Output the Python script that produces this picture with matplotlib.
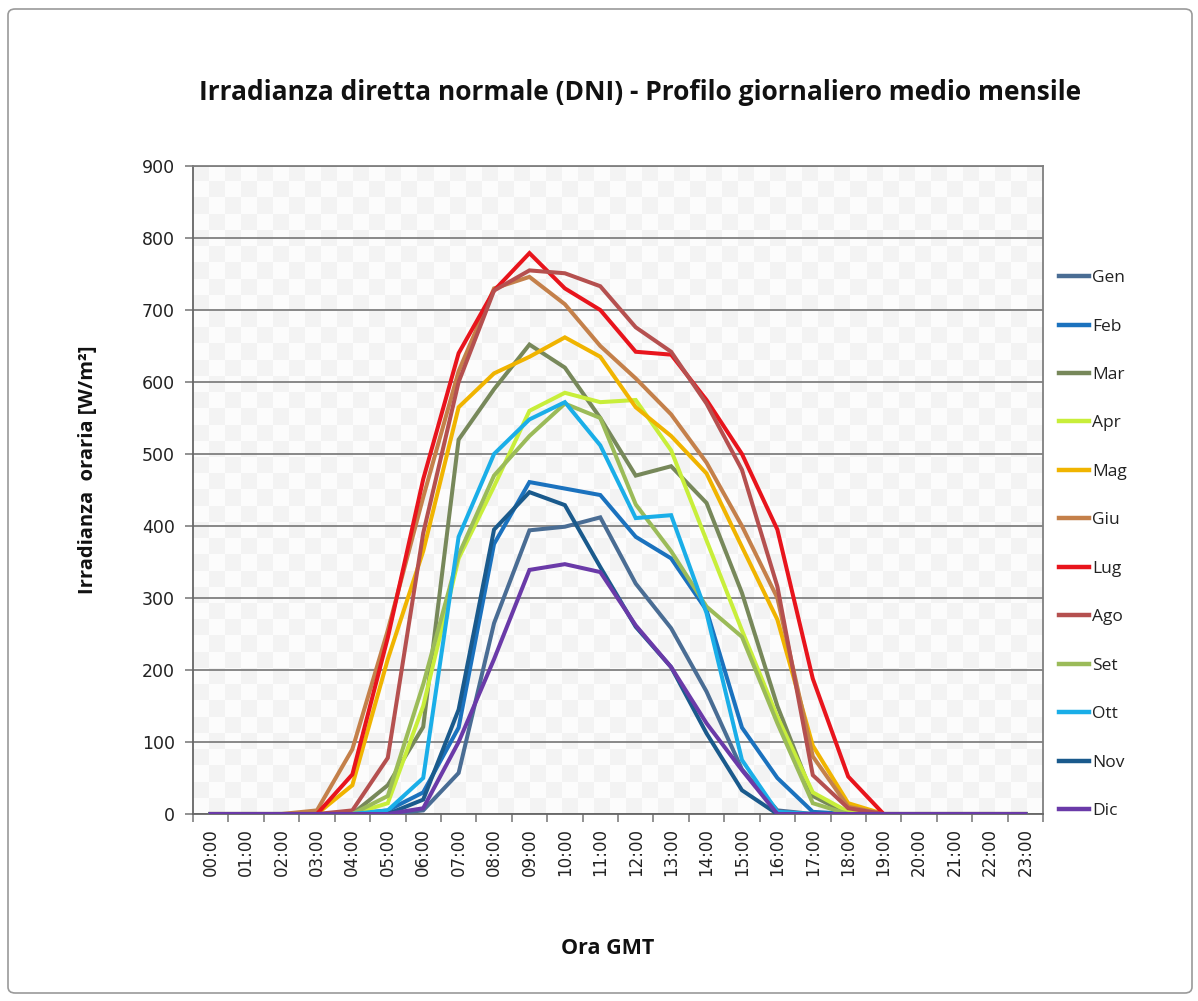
import numpy as np
import matplotlib
matplotlib.use("Agg")
import matplotlib.pyplot as plt
from matplotlib.patches import FancyBboxPatch
from matplotlib.colors import ListedColormap

hours = ["%02d:00" % h for h in range(24)]
months = ["Gen", "Feb", "Mar", "Apr", "Mag", "Giu", "Lug", "Ago", "Set", "Ott", "Nov", "Dic"]

gen = [0, 0, 0, 0, 0, 0, 5, 57, 265, 394, 399, 412, 320, 258, 170, 62, 5, 0, 0, 0, 0, 0, 0, 0]
feb = [0, 0, 0, 0, 0, 5, 30, 120, 375, 461, 452, 443, 385, 355, 283, 120, 50, 3, 0, 0, 0, 0, 0, 0]
mar = [0, 0, 0, 0, 0, 40, 121, 520, 590, 652, 620, 550, 470, 483, 432, 307, 150, 25, 0, 0, 0, 0, 0, 0]
apr = [0, 0, 0, 0, 0, 15, 150, 355, 455, 560, 585, 572, 575, 505, 380, 255, 135, 30, 3, 0, 0, 0, 0, 0]
mag = [0, 0, 0, 0, 40, 215, 365, 565, 612, 635, 662, 635, 565, 525, 473, 371, 270, 95, 15, 0, 0, 0, 0, 0]
giu = [0, 0, 0, 5, 90, 255, 440, 615, 730, 746, 708, 650, 605, 555, 488, 400, 300, 80, 10, 0, 0, 0, 0, 0]
lug = [0, 0, 0, 0, 55, 245, 465, 640, 727, 779, 730, 700, 642, 638, 575, 500, 395, 188, 52, 0, 0, 0, 0, 0]
ago = [0, 0, 0, 0, 5, 78, 390, 600, 727, 755, 751, 733, 676, 642, 570, 478, 316, 54, 8, 0, 0, 0, 0, 0]
set_ = [0, 0, 0, 0, 0, 25, 180, 360, 470, 525, 570, 550, 430, 365, 288, 246, 126, 15, 0, 0, 0, 0, 0, 0]
ott = [0, 0, 0, 0, 0, 5, 50, 385, 500, 548, 572, 512, 411, 415, 279, 75, 3, 0, 0, 0, 0, 0, 0, 0]
nov = [0, 0, 0, 0, 0, 0, 20, 145, 395, 447, 429, 343, 260, 204, 112, 33, 0, 0, 0, 0, 0, 0, 0, 0]
dic = [0, 0, 0, 0, 0, 0, 8, 100, 215, 339, 347, 336, 262, 204, 126, 61, 0, 0, 0, 0, 0, 0, 0, 0]

series = [gen, feb, mar, apr, mag, giu, lug, ago, set_, ott, nov, dic]
colors = ["#4A6D94", "#1B72BE", "#77885A", "#C8EE3A", "#F0B400", "#C4804A",
          "#E8141C", "#B5504F", "#9BBB59", "#1AAEE8", "#1A5A8C", "#6A3AA8"]

fig = plt.figure(figsize=(11.98, 10.01), dpi=100)
fig.patch.set_facecolor("white")

# outer border
fig.add_artist(FancyBboxPatch((8 / 1198, 8 / 1001), 1184 / 1198, 984 / 1001,
                              boxstyle="round,pad=0,rounding_size=0.006",
                              transform=fig.transFigure, fill=False,
                              edgecolor="#9a9a9a", linewidth=1.2))

L, R, B, T = 193 / 1198, 1043 / 1198, 1 - 814 / 1001, 1 - 166 / 1001
ax = fig.add_axes([L, B, R - L, T - B])

x = np.arange(24)
ax.set_xlim(-0.5, 23.5)
ax.set_ylim(0, 900)

# subtle checker background
nx, ny = 53, 40
chk = (np.indices((ny, nx)).sum(axis=0) % 2).astype(float)
ax.imshow(chk, extent=(-0.5, 23.5, 0, 900), aspect="auto",
          cmap=ListedColormap(["#f3f3f3", "#fcfcfc"]), vmin=0, vmax=1,
          zorder=0, interpolation="nearest")

ax.set_yticks(np.arange(0, 901, 100))
ax.yaxis.grid(True, color="#7f7f7f", linewidth=1.3, zorder=1)
ax.set_axisbelow(True)

for s, c, m in zip(series, colors, months):
    ax.plot(x, s, color=c, linewidth=2.9, label=m, zorder=3, solid_joinstyle="miter")

ax.set_xticks(x)
ax.set_xticklabels(hours, rotation=90, fontsize=12, family="DejaVu Sans", color="#222222")
ax.set_xticks(np.arange(-0.5, 24, 1), minor=True)
ax.tick_params(axis="x", which="major", length=0, pad=10)
ax.tick_params(axis="x", which="minor", length=6, color="#7f7f7f", width=1.2)
ax.tick_params(axis="y", which="major", length=6, color="#7f7f7f", width=1.2,
               labelsize=12.5, pad=7, labelcolor="#222222")

for sp in ax.spines.values():
    sp.set_color("#7f7f7f")
    sp.set_linewidth(1.3)
ax.spines["left"].set_color("#666666")
ax.spines["bottom"].set_color("#666666")

fig.text(640 / 1198, 1 - 92 / 1001,
         "Irradianza diretta normale (DNI) - Profilo giornaliero medio mensile",
         ha="center", va="center", fontsize=19, fontweight="bold", family="Open Sans",
         color="#111111")
fig.text(88 / 1198, 1 - 470 / 1001, "Irradianza  oraria [W/m²]", rotation=90,
         ha="center", va="center", fontsize=14.5, fontweight="bold", family="Open Sans",
         color="#111111")
fig.text(608 / 1198, 1 - 948 / 1001, "Ora GMT", ha="center", va="center",
         fontsize=15.5, fontweight="bold", family="Open Sans", color="#111111")

leg = ax.legend(loc="upper left", bbox_to_anchor=(1059 / 1198, 1 - 270 / 1001),
                bbox_transform=fig.transFigure, frameon=False, fontsize=12.5,
                handlelength=1.75, handletextpad=0.15, labelspacing=1.86,
                borderaxespad=0, borderpad=0)
for t in leg.get_texts():
    t.set_family("Open Sans")
    t.set_color("#222222")
for h in leg.get_lines():
    h.set_linewidth(3.2)

fig.savefig("out.png", dpi=100, facecolor="white")
